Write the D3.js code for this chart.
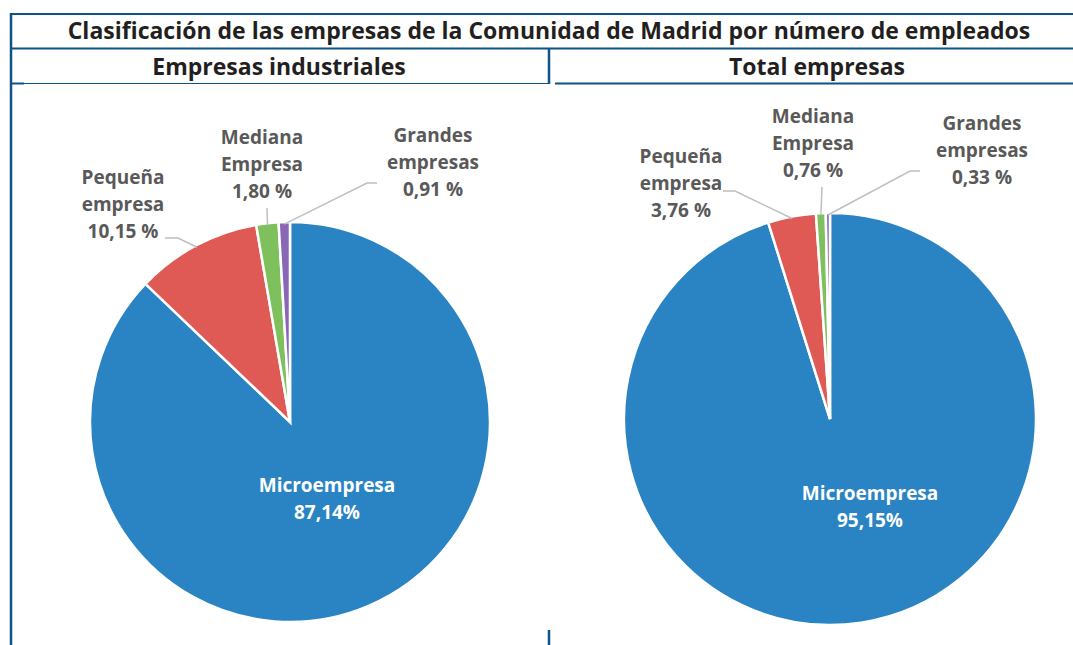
<!DOCTYPE html>
<html lang="es">
<head>
<meta charset="UTF-8">
<title>Clasificación de las empresas</title>
<script src="https://cdn.jsdelivr.net/npm/d3@7"></script>
<style>
  body { margin: 0; background: #fff; }
  text { font-family: "Open Sans", Lato, sans-serif; font-weight: bold; }
</style>
</head>
<body>
<script>
    // datos
    const categories = ['Microempresa', 'Pequeña empresa', 'Mediana Empresa', 'Grandes empresas']
    const industriales = [87.14, 10.15, 1.80, 0.91]
    const total = [95.15, 3.76, 0.76, 0.33]
    const labelsInd = ['87,14%', '10,15 %', '1,80 %', '0,91 %']
    const labelsTot = ['95,15%', '3,76 %', '0,76 %', '0,33 %']
    const colors = ['#2A84C3', '#E05A55', '#7EC05C', '#8A67B6']

    const [width, height] = [1073, 645]
    const frame = '#0D5385'

    const svg = d3.select('body').append('svg')
        .attr('width', width)
        .attr('height', height)

    // marco
    const line = (x1, y1, x2, y2, w) => svg.append('line')
        .attr('x1', x1).attr('y1', y1).attr('x2', x2).attr('y2', y2)
        .attr('stroke', frame).attr('stroke-width', w)
    line(11, 14, 1073, 14, 2)
    line(11, 48.5, 1073, 48.5, 2)
    line(11, 13, 11, 645, 2.5)
    line(549, 48, 549, 84, 2.5)
    line(11, 83.5, 549, 83.5, 1)
    line(555, 83.5, 1073, 83.5, 2)
    line(11, 83.5, 24, 83.5, 2)
    line(549, 630, 549, 645, 2.5)

    svg.append('text')
        .attr('x', 549).attr('y', 39)
        .attr('text-anchor', 'middle')
        .attr('font-size', 23)
        .attr('fill', '#231F20')
        .text('Clasificación de las empresas de la Comunidad de Madrid por número de empleados')

    const pie = d3.pie().sort(null).value(d => d)

    const drawPie = (opts) => {
        const g = svg.append('g').attr('transform', `translate(${opts.cx},${opts.cy})`)
        const arc = d3.arc().innerRadius(0).outerRadius(opts.r)
        const arcs = pie(opts.values)

        svg.append('text')
            .attr('x', opts.headX).attr('y', 75)
            .attr('text-anchor', 'middle')
            .attr('font-size', 23)
            .attr('fill', '#231F20')
            .text(opts.title)

        g.selectAll('path.slice').data(arcs).enter().append('path')
            .attr('class', 'slice')
            .attr('d', arc)
            .attr('fill', (d, i) => colors[i])
            .attr('stroke', '#fff')
            .attr('stroke-width', 2.5)

        // etiqueta interior
        const inner = g.append('text')
            .attr('text-anchor', 'middle')
            .attr('font-size', 19)
            .attr('fill', '#fff')
            .attr('transform', `translate(${opts.inner[0]},${opts.inner[1]})`)
        inner.append('tspan').attr('x', 0).attr('dy', 0).text(categories[0])
        inner.append('tspan').attr('x', 0).attr('dy', 27).text(opts.labels[0])

        // etiquetas exteriores
        opts.outer.forEach((o, k) => {
            const i = k + 1
            const words = categories[i].split(' ')
            const t = g.append('text')
                .attr('text-anchor', 'middle')
                .attr('font-size', 19)
                .attr('fill', '#595959')
                .attr('transform', `translate(${o.pos[0]},${o.pos[1]})`)
            words.concat([opts.labels[i]]).forEach((w, j) => {
                t.append('tspan').attr('x', 0).attr('dy', j ? 27 : 0).text(w)
            })
            const a = arcs[i]
            const mid = (a.startAngle + a.endAngle) / 2
            const end = [Math.sin(mid) * (opts.r - 2), -Math.cos(mid) * (opts.r - 2)]
            const pts = o.leader.concat([end])
            g.append('path')
                .attr('d', d3.line()(pts))
                .attr('fill', 'none')
                .attr('stroke', '#BFBFBF')
                .attr('stroke-width', 1.5)
        })
    }

    drawPie({
        cx: 290, cy: 422, r: 200,
        values: industriales, labels: labelsInd,
        title: 'Empresas industriales', headX: 279,
        inner: [37, 70],
        outer: [
            { pos: [-167, -238], leader: [[-125, -184], [-112, -184]] },
            { pos: [-28, -278], leader: [[-23, -214]] },
            { pos: [143, -280], leader: [[87, -239], [77, -239]] }
        ]
    })

    drawPie({
        cx: 830, cy: 419, r: 206,
        values: total, labels: labelsTot,
        title: 'Total empresas', headX: 817,
        inner: [40, 81],
        outer: [
            { pos: [-149, -256], leader: [[-107, -228], [-95, -228]] },
            { pos: [-17, -296], leader: [[-8, -232]] },
            { pos: [152, -289], leader: [[90, -248], [80, -248]] }
        ]
    })
</script>
</body>
</html>
